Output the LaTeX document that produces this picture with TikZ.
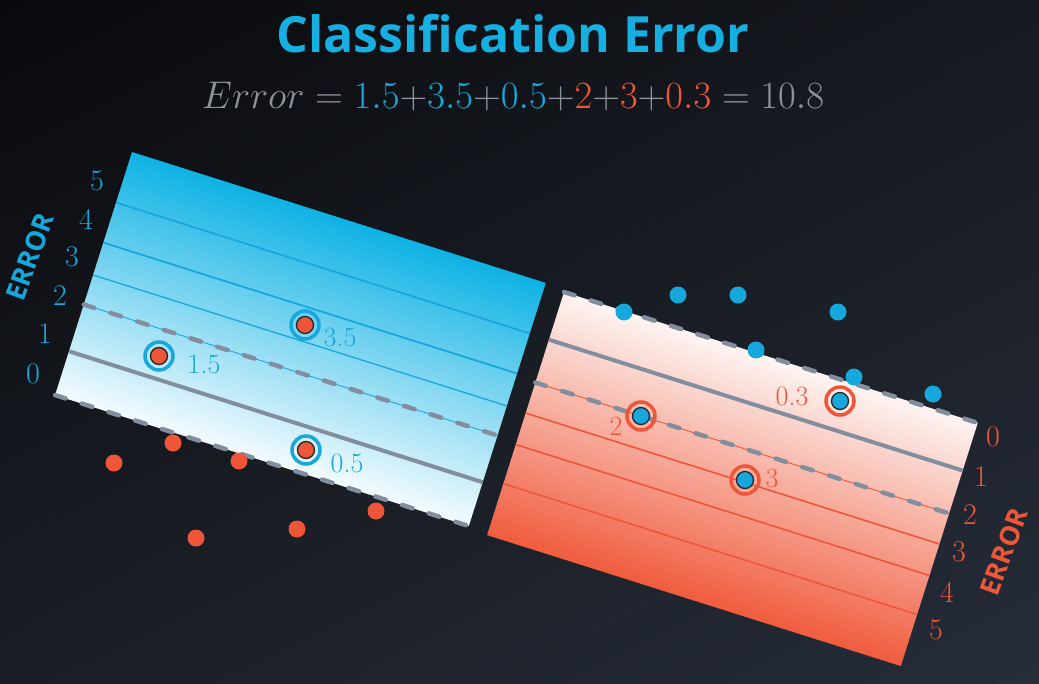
\documentclass[tikz,border=0pt]{standalone}
\usepackage{fontspec}
\usetikzlibrary{shadings}
\newfontfamily\osans{Open Sans}
\definecolor{cy}{RGB}{22,168,220}
\definecolor{cyT}{RGB}{21,175,226}
\definecolor{cyTop}{RGB}{14,178,228}
\definecolor{cyBot}{RGB}{244,251,254}
\definecolor{orc}{RGB}{238,86,58}
\definecolor{orTop}{RGB}{253,245,243}
\definecolor{orBot}{RGB}{240,92,62}
\definecolor{fg}{RGB}{142,147,154}
\definecolor{gl}{RGB}{130,142,158}
\definecolor{dotline}{RGB}{35,38,44}
\definecolor{bgA}{RGB}{9,10,13}
\definecolor{bgB}{RGB}{22,25,31}
\definecolor{bgC}{RGB}{26,30,37}
\definecolor{bgD}{RGB}{38,45,57}
\begin{document}
\begin{tikzpicture}[x=1pt,y=-1pt,
  edgedash/.style={draw=gl, line width=4.5pt, dash pattern=on 11pt off 17pt, line cap=round},
  boundary/.style={draw=gl, line width=4pt},
  ring/.style={circle, minimum size=28pt, inner sep=0pt, line width=3.5pt},
  ringdot/.style={circle, minimum size=17pt, inner sep=0pt, draw=dotline, line width=1.3pt},
  freedot/.style={circle, minimum size=17pt, inner sep=0pt},
  ptlabel/.style={inner sep=0pt, font=\fontsize{28}{30}\selectfont},
  axlabel/.style={inner sep=0pt, font=\fontsize{30}{32}\selectfont},
  errlabel/.style={inner sep=0pt, rotate=70, font=\osans\bfseries\fontsize{27}{30}\selectfont}]
\useasboundingbox (0,0) rectangle (1039,683);
\shade[upper left=bgA, upper right=bgB, lower left=bgC, lower right=bgD] (0,0) rectangle (1039,683);

% left panel
\begin{scope}[transform canvas={shift={(132,152)},rotate=-17.56}]
  \shade[top color=cyTop, bottom color=cyBot] (0,0) rectangle (434,255);
  \draw[cy, line width=1.8pt] (0,53) -- (434,53);
  \draw[cy, line width=1.8pt] (0,95) -- (434,95);
  \draw[cy, line width=1.3pt] (0,129) -- (434,129);
  \draw[cy, line width=0.9pt] (0,160) -- (434,160);
  \draw[edgedash] (0,160) -- (434,160);
  \draw[boundary] (0,209) -- (434,209);
  \draw[edgedash] (0,255) -- (434,255);
\end{scope}

% right panel
\begin{scope}[transform canvas={shift={(564,292)},rotate=-17.56}]
  \shade[top color=orTop, bottom color=orBot] (0,0) rectangle (434,255);
  \draw[boundary] (0,50) -- (434,50);
  \draw[orc, line width=0.9pt] (0,95) -- (434,95);
  \draw[edgedash] (0,95) -- (434,95);
  \draw[orc, line width=1.6pt] (0,127) -- (434,127);
  \draw[orc, line width=1.6pt] (0,160) -- (434,160);
  \draw[orc, line width=1.6pt] (0,201) -- (434,201);
  \draw[edgedash] (0,0) -- (434,0);
\end{scope}

% title and formula
\node[anchor=base, inner sep=0pt, text=cyT, font=\osans\bfseries\fontsize{50}{60}\selectfont] (title) at (513,52) {Classification Error};
\node[anchor=base, inner sep=0pt, text=fg, scale=1.55, transform shape, font=\fontsize{24.88}{30}\selectfont] (formula) at (513,108)
  {$Error = \textcolor{cy}{1.5}{+}\textcolor{cy}{3.5}{+}\textcolor{cy}{0.5}{+}\textcolor{orc}{2}{+}\textcolor{orc}{3}{+}\textcolor{orc}{0.3} = 10.8$};

% axis labels left
\node[axlabel, text=cy] (la5) at (97,181) {5};
\node[axlabel, text=cy] (la4) at (86,219) {4};
\node[axlabel, text=cy] (la3) at (72,257) {3};
\node[axlabel, text=cy] (la2) at (60,296) {2};
\node[axlabel, text=cy] (la1) at (45,334) {1};
\node[axlabel, text=cy] (la0) at (33,374) {0};
\node[errlabel, text=cy] (errL) at (30,257) {ERROR};

% axis labels right
\node[axlabel, text=orc] (ra0) at (993,437) {0};
\node[axlabel, text=orc] (ra1) at (981,477) {1};
\node[axlabel, text=orc] (ra2) at (970,515) {2};
\node[axlabel, text=orc] (ra3) at (959,552) {3};
\node[axlabel, text=orc] (ra4) at (947,592) {4};
\node[axlabel, text=orc] (ra5) at (936,630) {5};
\node[errlabel, text=orc] (errR) at (1004,552) {ERROR};

% misclassified red points (left)
\node[ring, draw=cy] (rA) at (159,356) {};
\node[ringdot, fill=orc] (pA) at (rA) {};
\node[ptlabel, text=cy] (tA) at (204,364) {1.5};
\node[ring, draw=cy] (rB) at (305,325) {};
\node[ringdot, fill=orc] (pB) at (rB) {};
\node[ptlabel, text=cy] (tB) at (340,337) {3.5};
\node[ring, draw=cy] (rC) at (306,450) {};
\node[ringdot, fill=orc] (pC) at (rC) {};
\node[ptlabel, text=cy] (tC) at (347,463) {0.5};

% misclassified blue points (right)
\node[ring, draw=orc] (rD) at (641,416) {};
\node[ringdot, fill=cy] (pD) at (rD) {};
\node[ptlabel, text=orc] (tD) at (616,426) {2};
\node[ring, draw=orc] (rE) at (745,480) {};
\node[ringdot, fill=cy] (pE) at (rE) {};
\node[ptlabel, text=orc] (tE) at (772,478) {3};
\node[ring, draw=orc] (rF) at (840,401) {};
\node[ringdot, fill=cy] (pF) at (rF) {};
\node[ptlabel, text=orc] (tF) at (792,396) {0.3};

% correctly classified red points
\node[freedot, fill=orc] (o1) at (114,463) {};
\node[freedot, fill=orc] (o2) at (173,443) {};
\node[freedot, fill=orc] (o3) at (239,461) {};
\node[freedot, fill=orc] (o4) at (196,538) {};
\node[freedot, fill=orc] (o5) at (297,529) {};
\node[freedot, fill=orc] (o6) at (376,511) {};

% correctly classified blue points
\node[freedot, fill=cy] (b1) at (624,312) {};
\node[freedot, fill=cy] (b2) at (678,295) {};
\node[freedot, fill=cy] (b3) at (738,295) {};
\node[freedot, fill=cy] (b4) at (838,312) {};
\node[freedot, fill=cy] (b5) at (756,350) {};
\node[freedot, fill=cy] (b6) at (854,377) {};
\node[freedot, fill=cy] (b7) at (933,394) {};
\end{tikzpicture}
\end{document}
